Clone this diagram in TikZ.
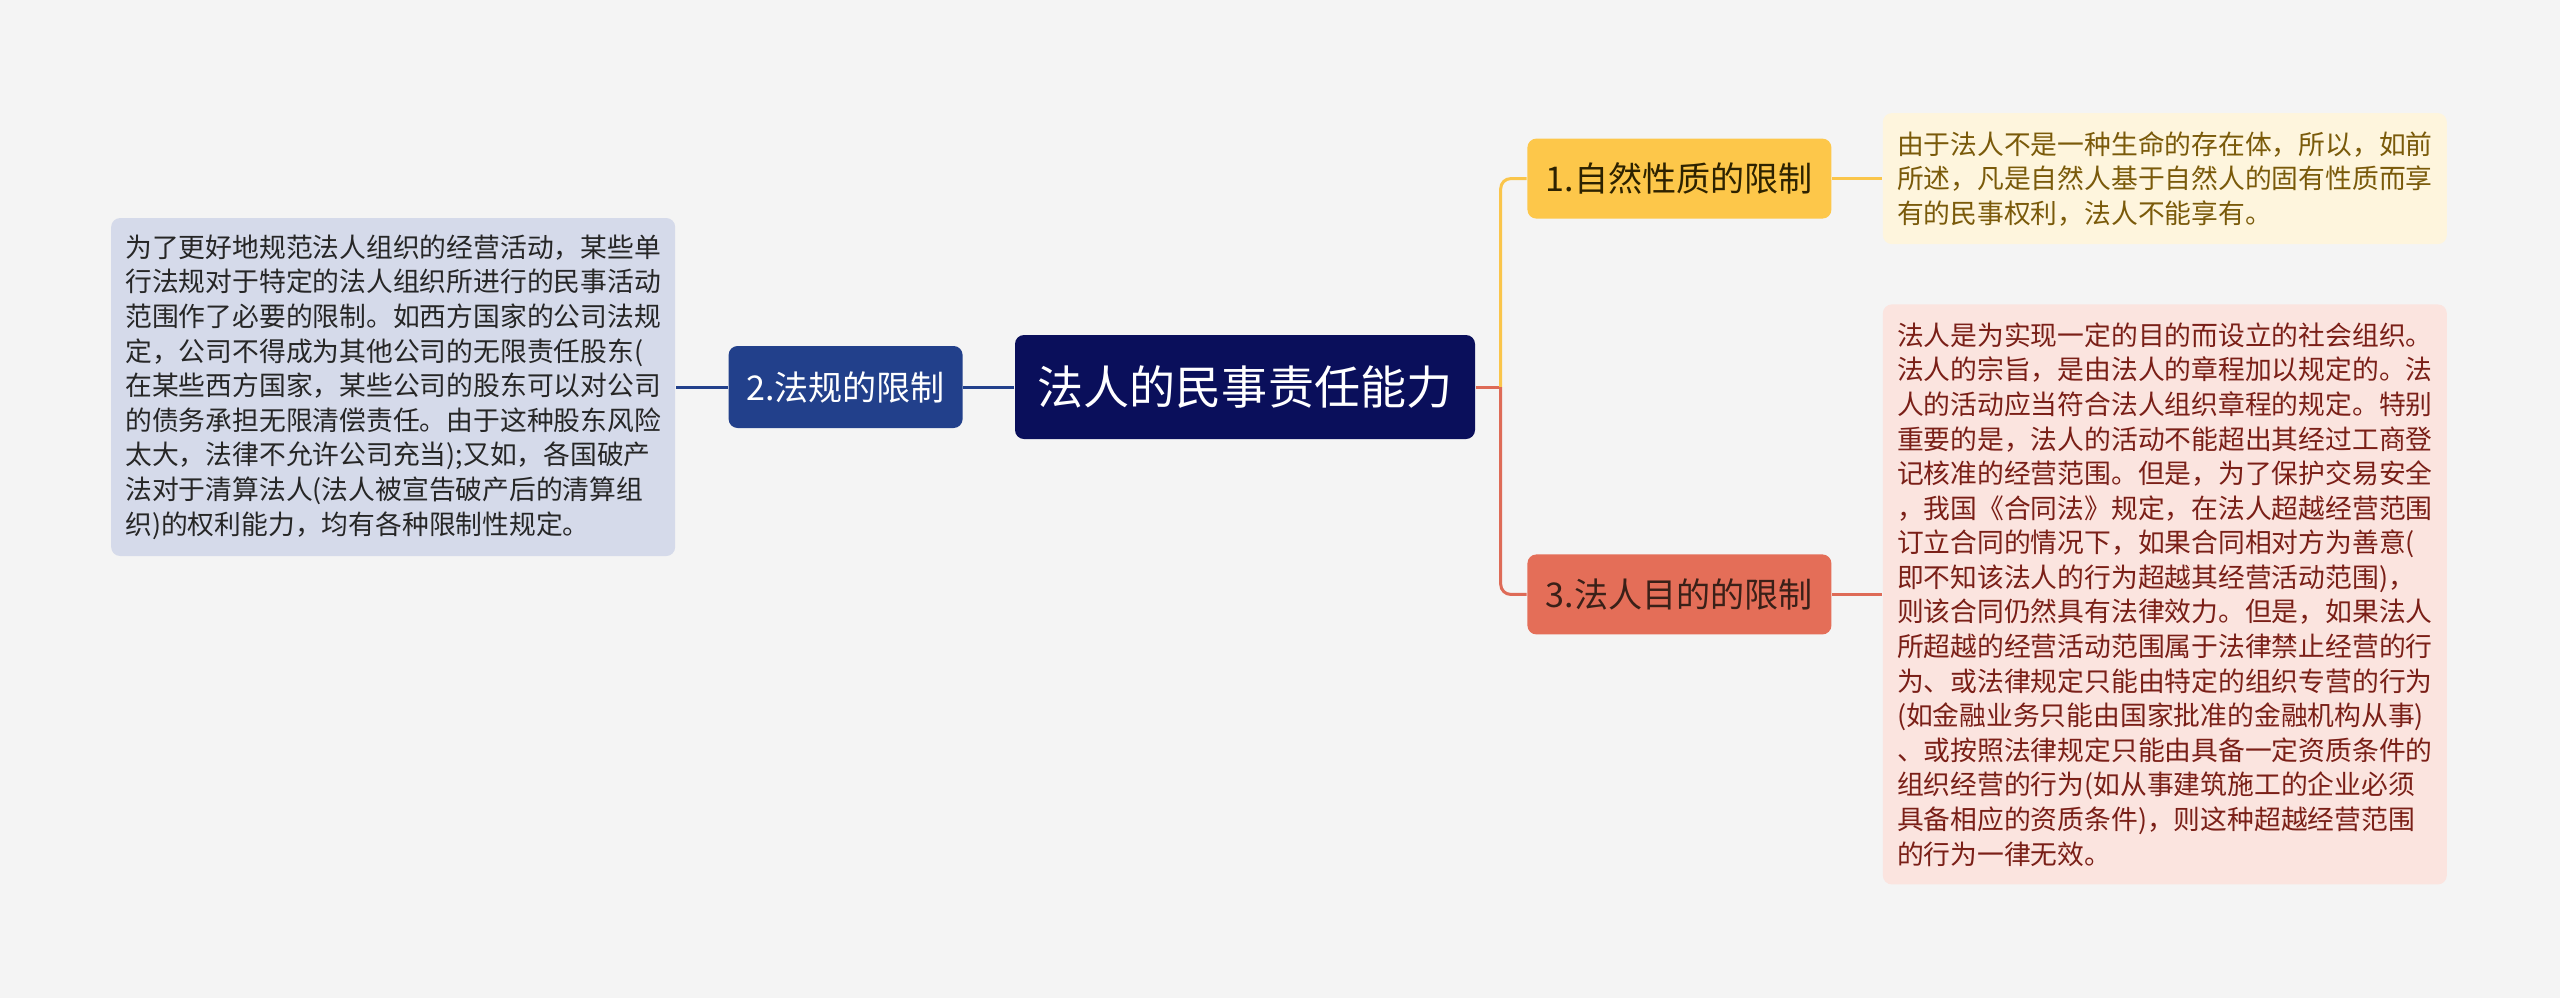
\documentclass[tikz,border=0pt]{standalone}
\usepackage{fontspec}
\newfontfamily\cjk{Noto Sans CJK SC}
\usetikzlibrary{positioning}

\definecolor{bgcol}{HTML}{F4F4F4}
\definecolor{rootfill}{HTML}{0A0F5B}
\definecolor{lawfill}{HTML}{22408B}
\definecolor{lawnotefill}{HTML}{D5DAEA}
\definecolor{lawtext}{HTML}{262626}
\definecolor{naturefill}{HTML}{FDC74A}
\definecolor{naturetext}{HTML}{2D2200}
\definecolor{naturenotefill}{HTML}{FEF5DD}
\definecolor{naturenotetext}{HTML}{7A5A0A}
\definecolor{purposefill}{HTML}{E46E58}
\definecolor{purposetext}{HTML}{3A2018}
\definecolor{purposenotefill}{HTML}{FBE4DF}
\definecolor{purposenotetext}{HTML}{7A1F17}
\definecolor{navyline}{HTML}{22408B}
\definecolor{yellowline}{HTML}{FAC54A}
\definecolor{redline}{HTML}{DE6B57}

\tikzstyle{topic} = [
    rectangle,
    rounded corners=0.09cm,
    fill=rootfill,
    text=white,
    font=\cjk\fontsize{13.1}{15}\selectfont,
    minimum width=4.6cm,
    minimum height=1.04cm,
    inner sep=0pt
]
\tikzstyle{branch} = [
    rectangle,
    rounded corners=0.09cm,
    font=\cjk\fontsize{9.7}{12}\selectfont,
    minimum width=3.04cm,
    minimum height=0.8cm,
    inner sep=0pt
]
\tikzstyle{note} = [
    rectangle,
    rounded corners=0.09cm,
    align=left,
    font=\cjk\fontsize{7.62}{9.84}\selectfont,
    minimum width=5.64cm,
    inner sep=0pt
]
\tikzstyle{link} = [line width=0.03cm]

\begin{document}
\begin{tikzpicture}

\fill [bgcol] (0,0) rectangle (25.6,-9.98);
\useasboundingbox (0,0) rectangle (25.6,-9.98);

\node (root) [topic] at (12.45,-3.87) {法人的民事责任能力};

\node (law) [branch, fill=lawfill, text=white, minimum width=2.34cm,
    minimum height=0.82cm, left=0.51cm of root] {2.法规的限制};

\node (lawnote) [note, fill=lawnotefill, text=lawtext, minimum height=3.38cm,
    left=0.52cm of law]
{为了更好地规范法人组织的经营活动，某些单\\
行法规对于特定的法人组织所进行的民事活动\\
范围作了必要的限制。如西方国家的公司法规\\
定，公司不得成为其他公司的无限责任股东(\\
在某些西方国家，某些公司的股东可以对公司\\
的债务承担无限清偿责任。由于这种股东风险\\
太大，法律不允许公司充当);又如，各国破产\\
法对于清算法人(法人被宣告破产后的清算组\\
织)的权利能力，均有各种限制性规定。};

\node (nature) [branch, fill=naturefill, text=naturetext,
    above right=1.15cm and 0.51cm of root] {1.自然性质的限制};

\node (purpose) [branch, fill=purposefill, text=purposetext,
    below right=1.14cm and 0.51cm of root] {3.法人目的的限制};

\node (naturenote) [note, fill=naturenotefill, text=naturenotetext,
    minimum height=1.31cm, right=0.5cm of nature]
{由于法人不是一种生命的存在体，所以，如前\\
所述，凡是自然人基于自然人的固有性质而享\\
有的民事权利，法人不能享有。};

\node (purposenote) [note, fill=purposenotefill, text=purposenotetext,
    minimum height=5.8cm, right=0.5cm of purpose]
{法人是为实现一定的目的而设立的社会组织。\\
法人的宗旨，是由法人的章程加以规定的。法\\
人的活动应当符合法人组织章程的规定。特别\\
重要的是，法人的活动不能超出其经过工商登\\
记核准的经营范围。但是，为了保护交易安全\\
，我国《合同法》规定，在法人超越经营范围\\
订立合同的情况下，如果合同相对方为善意(\\
即不知该法人的行为超越其经营活动范围)，\\
则该合同仍然具有法律效力。但是，如果法人\\
所超越的经营活动范围属于法律禁止经营的行\\
为、或法律规定只能由特定的组织专营的行为\\
(如金融业务只能由国家批准的金融机构从事)\\
、或按照法律规定只能由具备一定资质条件的\\
组织经营的行为(如从事建筑施工的企业必须\\
具备相应的资质条件)，则这种超越经营范围\\
的行为一律无效。};

\coordinate (fork) at ([xshift=0.25cm]root.east);

\draw [link, draw=navyline] (root) -- (law);
\draw [link, draw=navyline] (law) -- (lawnote);

\draw [link, draw=redline] (root.east) -- (fork);
\draw [link, draw=yellowline, rounded corners=0.1cm] (fork) |- (nature.west);
\draw [link, draw=redline, rounded corners=0.1cm] (fork) |- (purpose.west);

\draw [link, draw=yellowline] (nature) -- (naturenote);
\draw [link, draw=redline] (purpose) -- (purposenote);

\end{tikzpicture}
\end{document}
